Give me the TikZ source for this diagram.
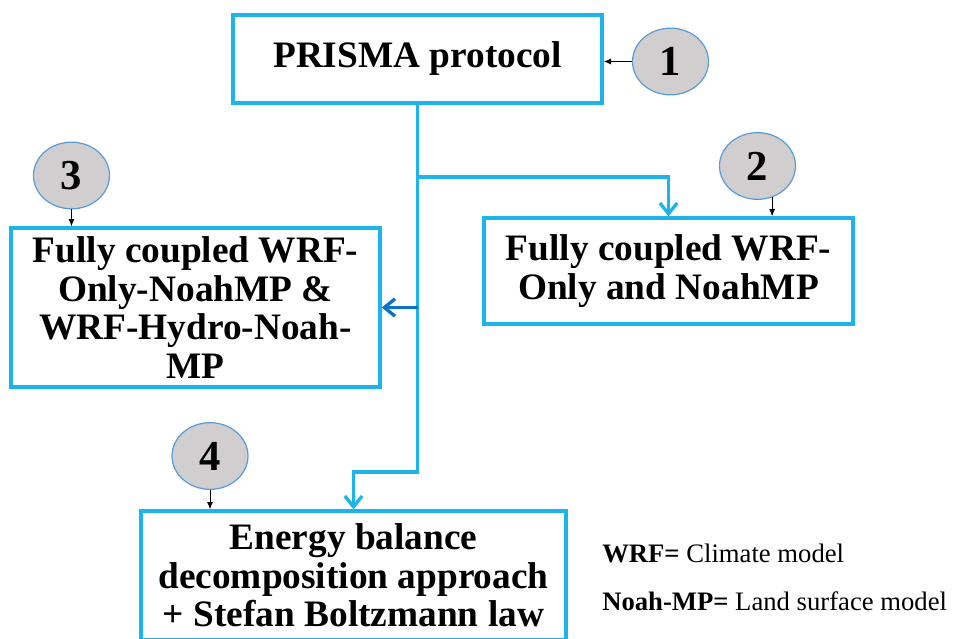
\documentclass[tikz,border=0pt]{standalone}
\usepackage{fontspec}
\setmainfont{Liberation Serif}
\usetikzlibrary{arrows.meta,shapes.geometric}
\definecolor{boxblue}{HTML}{1DB4EC}
\definecolor{tapblue}{HTML}{0E72C4}
\definecolor{circfill}{HTML}{D0CECE}
\definecolor{circedge}{HTML}{5B9BD5}
\begin{document}
\begin{tikzpicture}[x=0.75pt,y=-0.75pt,
    stagebox/.style={draw=boxblue,line width=2.5pt,align=center,inner sep=0pt,
      minimum width=276.75pt,font=\fontsize{28}{29}\selectfont\bfseries},
    numcirc/.style={ellipse,draw=circedge,line width=0.9pt,fill=circfill,inner sep=0pt,
      minimum width=57pt,minimum height=50pt,font=\fontsize{32}{32}\selectfont\bfseries},
    flow/.style={draw=boxblue,line width=2.5pt,-{Straight Barb[length=8pt,width=13pt]}},
    pointer/.style={line width=0.7pt,-{Latex[length=5.5pt,width=4.5pt]}},
    keytext/.style={anchor=base west,inner sep=0pt,font=\fontsize{20}{20}\selectfont}]
    \useasboundingbox (0,0) rectangle (955,638);
    \clip (0,0) rectangle (955,638);
    % boxes
    \node[stagebox,minimum height=66pt] (prisma) at (417.5,59) {PRISMA protocol};
    \node[stagebox,minimum height=79.5pt] (coupled) at (668.5,271) {Fully coupled WRF-\\Only and NoahMP};
    \node[stagebox,minimum height=119.25pt] (hydro) at (195.5,307.5) {Fully coupled WRF-\\Only-NoahMP \&\\WRF-Hydro-Noah-\\MP};
    \node[stagebox,minimum width=318.75pt,minimum height=96.75pt] (energy) at (353.5,575.5) {Energy balance\\decomposition approach\\+ Stefan Boltzmann law};
    % numbers
    \node[numcirc] (one) at (670.5,61.5) {1};
    \node[numcirc] (two) at (757.5,166) {2};
    \node[numcirc] (three) at (71.5,175.5) {3};
    \node[numcirc] (four) at (210,456) {4};
    \draw[pointer] (one.west) -- (one.west -| prisma.east);
    \draw[pointer] (two.-65) -- (two.-65 |- coupled.north);
    \draw[pointer] (three.south) -- (three.south |- hydro.north);
    \draw[pointer] (four.south) -- (four.south |- energy.north);
    % flow lines
    \coordinate (split) at (417.5,177);
    \coordinate (tap) at (417.5,307.5);
    \coordinate (bend) at (417.5,472);
    \draw[flow] (prisma.south) -- (bend) -| (energy.north);
    \draw[flow] (split) -| (coupled.north);
    \draw[flow,draw=tapblue] (tap) -- (hydro.east);
    % key
    \node[keytext] (wrfkey) at (602,562) {\textbf{WRF=} Climate model};
    \node[keytext] (noahkey) at (602,610) {\textbf{Noah-MP=} Land surface model};
\end{tikzpicture}
\end{document}
